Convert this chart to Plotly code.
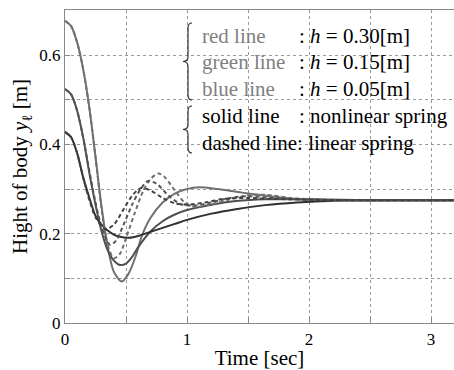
import plotly.graph_objects as go

# ---- data ----
t_red_solid = [0, 0.05, 0.1, 0.15, 0.2, 0.25, 0.3, 0.35, 0.4, 0.465, 0.52, 0.58, 0.63, 0.7, 0.8, 0.9, 1.0, 1.1, 1.25, 1.45, 1.65, 1.85, 2.1, 2.5, 3.2]
y_red_solid = [0.677, 0.665, 0.628, 0.567, 0.481, 0.372, 0.26, 0.17, 0.115, 0.093, 0.11, 0.15, 0.195, 0.235, 0.27, 0.29, 0.30, 0.304, 0.30, 0.292, 0.285, 0.279, 0.276, 0.275, 0.275]

t_green_solid = [0, 0.05, 0.1, 0.15, 0.2, 0.25, 0.3, 0.35, 0.4, 0.45, 0.5, 0.55, 0.6, 0.7, 0.8, 0.9, 1.0, 1.2, 1.4, 1.64, 2.0, 2.5, 3.2]
y_green_solid = [0.524, 0.512, 0.475, 0.414, 0.335, 0.265, 0.205, 0.163, 0.14, 0.13, 0.133, 0.148, 0.17, 0.205, 0.228, 0.243, 0.253, 0.265, 0.273, 0.277, 0.277, 0.275, 0.275]

t_blue_solid = [0, 0.05, 0.1, 0.15, 0.2, 0.25, 0.3, 0.35, 0.4, 0.45, 0.53, 0.6, 0.7, 0.8, 0.9, 1.0, 1.2, 1.4, 1.64, 1.9, 2.2, 2.6, 3.2]
y_blue_solid = [0.428, 0.416, 0.38, 0.325, 0.28, 0.24, 0.22, 0.207, 0.198, 0.193, 0.191, 0.195, 0.204, 0.213, 0.222, 0.231, 0.245, 0.255, 0.264, 0.27, 0.274, 0.275, 0.275]

t_red_dash = [0, 0.05, 0.1, 0.15, 0.2, 0.25, 0.3, 0.35, 0.4, 0.45, 0.5, 0.57, 0.64, 0.7, 0.765, 0.82, 0.9, 0.98, 1.07, 1.2, 1.35, 1.5, 1.65, 1.85, 2.1, 2.5, 3.2]
y_red_dash = [0.677, 0.665, 0.628, 0.567, 0.481, 0.372, 0.255, 0.175, 0.145, 0.155, 0.19, 0.245, 0.295, 0.322, 0.335, 0.326, 0.297, 0.27, 0.26, 0.266, 0.277, 0.286, 0.287, 0.28, 0.276, 0.275, 0.275]

t_green_dash = [0, 0.05, 0.1, 0.15, 0.2, 0.25, 0.3, 0.37, 0.42, 0.48, 0.55, 0.62, 0.68, 0.75, 0.85, 0.95, 1.05, 1.2, 1.35, 1.5, 1.7, 2.0, 2.5, 3.2]
y_green_dash = [0.524, 0.512, 0.475, 0.414, 0.34, 0.27, 0.215, 0.175, 0.185, 0.22, 0.265, 0.3, 0.318, 0.312, 0.285, 0.266, 0.263, 0.27, 0.28, 0.284, 0.28, 0.276, 0.275, 0.275]

t_blue_dash = [0, 0.05, 0.1, 0.15, 0.2, 0.25, 0.33, 0.4, 0.47, 0.55, 0.62, 0.7, 0.8, 0.9, 1.0, 1.15, 1.3, 1.5, 1.7, 2.0, 2.5, 3.2]
y_blue_dash = [0.428, 0.416, 0.38, 0.325, 0.275, 0.237, 0.21, 0.22, 0.25, 0.285, 0.302, 0.297, 0.28, 0.268, 0.265, 0.27, 0.278, 0.28, 0.278, 0.276, 0.275, 0.275]

x_ticks = [0, 1, 2, 3]
y_ticks = [0, 0.2, 0.4, 0.6]
y_tick_labels = ["0", "0.2", "0.4", "0.6"]

# ---- layout helpers (pixel -> axis units) ----
X0, PX_PER_SEC = 65, 122.0
Y0, PX_PER_M = 323, 446.5


def px2x(px):
    return (px - X0) / PX_PER_SEC


def px2y(py):
    return (Y0 - py) / PX_PER_M


FONT = "Liberation Serif"

fig = go.Figure()

series = [
    (t_red_solid, y_red_solid, "#707070", "solid"),
    (t_green_solid, y_green_solid, "#4f4f4f", "solid"),
    (t_blue_solid, y_blue_solid, "#303030", "solid"),
    (t_red_dash, y_red_dash, "#707070", "4px,3px"),
    (t_green_dash, y_green_dash, "#555555", "4px,3px"),
    (t_blue_dash, y_blue_dash, "#404040", "4px,3px"),
]
for tx, ty, col, dash in series:
    fig.add_trace(go.Scatter(x=tx, y=ty, mode="lines",
                             line=dict(color=col, width=2, dash=dash, shape="spline", smoothing=0.8),
                             showlegend=False, hoverinfo="skip"))


def brace_path(xr, xm, xt, ytop, ybot, r=5):
    ym = (ytop + ybot) / 2
    pts = [
        f"M {px2x(xr)},{px2y(ytop)}",
        f"Q {px2x(xm)},{px2y(ytop)} {px2x(xm)},{px2y(ytop + r)}",
        f"L {px2x(xm)},{px2y(ym - r)}",
        f"Q {px2x(xm)},{px2y(ym)} {px2x(xt)},{px2y(ym)}",
        f"Q {px2x(xm)},{px2y(ym)} {px2x(xm)},{px2y(ym + r)}",
        f"L {px2x(xm)},{px2y(ybot - r)}",
        f"Q {px2x(xm)},{px2y(ybot)} {px2x(xr)},{px2y(ybot)}",
    ]
    return " ".join(pts)


shapes = [
    dict(type="path", xref="x", yref="y", path=brace_path(192, 188, 183, 23, 100),
         line=dict(color="#333333", width=1.2)),
    dict(type="path", xref="x", yref="y", path=brace_path(192, 188, 183, 106, 153),
         line=dict(color="#333333", width=1.2)),
]

rows_py = [36, 62, 89, 116, 143]
annos = []
left_labels = [("red line", "#808080"), ("green line", "#808080"), ("blue line", "#808080"),
               ("solid line", "#000000"), ("dashed line: linear spring", "#000000")]
right_labels = [": <i>h</i> = 0.30[m]", ": <i>h</i> = 0.15[m]", ": <i>h</i> = 0.05[m]",
                ": nonlinear spring", None]
for py, (lt, lc), rt in zip(rows_py, left_labels, right_labels):
    annos.append(dict(x=px2x(200), y=px2y(py), xref="x", yref="y", text=lt, showarrow=False,
                      xanchor="left", yanchor="middle", font=dict(family=FONT, size=21, color=lc)))
    if rt:
        annos.append(dict(x=px2x(297), y=px2y(py), xref="x", yref="y", text=rt, showarrow=False,
                          xanchor="left", yanchor="middle", font=dict(family=FONT, size=21, color="#000")))

fig.update_layout(
    width=454, height=370,
    margin=dict(l=65, r=0, t=10, b=47),
    paper_bgcolor="white", plot_bgcolor="white",
    font=dict(family=FONT, size=16, color="#000"),
    shapes=shapes, annotations=annos,
    xaxis=dict(range=[0, px2x(454)], tickvals=x_ticks, ticktext=[str(v) for v in x_ticks],
               showline=True, linecolor="#888", linewidth=1.2, mirror=True,
               ticks="inside", ticklen=5, tickcolor="#888",
               showgrid=True, gridcolor="#999", griddash="dot", gridwidth=1,
               minor=dict(dtick=0.5, tick0=0, showgrid=True, gridcolor="#999", griddash="dot",
                          ticks="inside", ticklen=5, tickcolor="#888"),
               zeroline=False, tickfont=dict(family=FONT, size=17),
               title=dict(text="Time [sec]", font=dict(family=FONT, size=21), standoff=5)),
    yaxis=dict(range=[0, px2y(10)], tickvals=y_ticks, ticktext=y_tick_labels,
               showline=True, linecolor="#888", linewidth=1.2, mirror=False,
               ticks="inside", ticklen=5, tickcolor="#888",
               showgrid=True, gridcolor="#999", griddash="dot", gridwidth=1,
               minor=dict(dtick=0.1, tick0=0, showgrid=True, gridcolor="#999", griddash="dot",
                          ticks="inside", ticklen=5, tickcolor="#888"),
               zeroline=False, tickfont=dict(family=FONT, size=17),
               title=dict(text="Hight of body <i>y</i><sub>ℓ</sub> [m]", font=dict(family=FONT, size=21), standoff=5)),
)

fig.write_html("out.html")
